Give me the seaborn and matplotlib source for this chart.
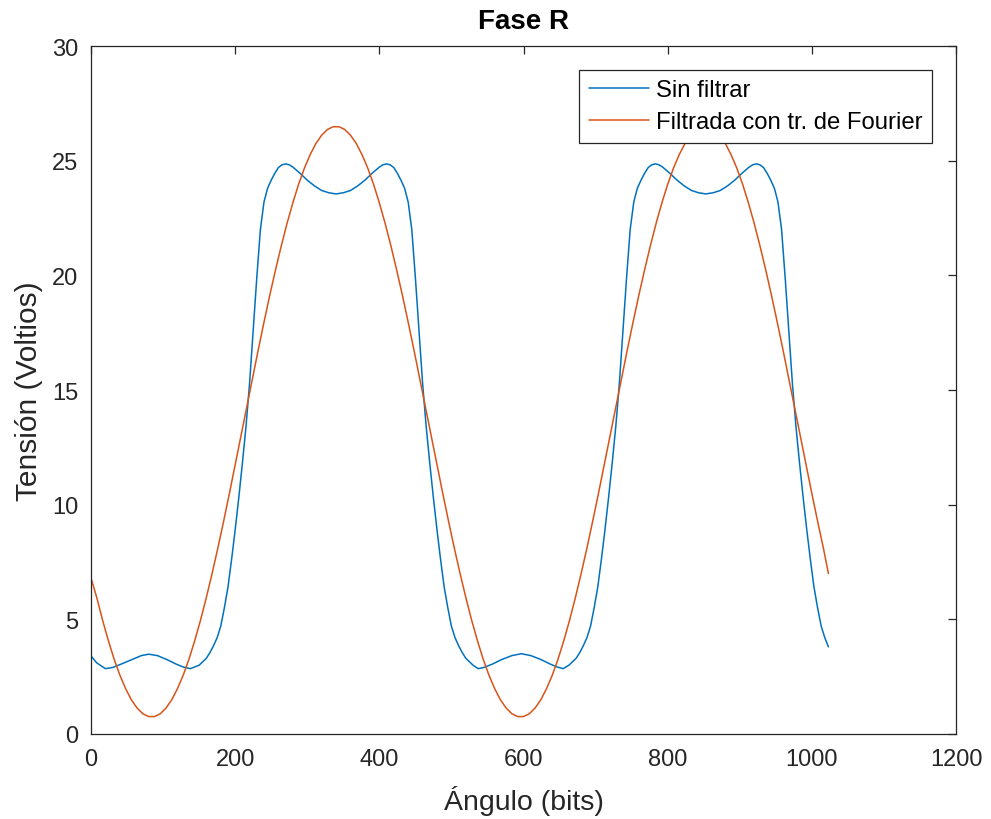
import matplotlib
matplotlib.use("Agg")
import matplotlib.pyplot as plt
import seaborn as sns
import pandas as pd

# ---- data ----
blue_x = [0, 8, 20, 30, 42, 57, 70, 80, 92, 105, 118, 128, 138, 150, 160, 165, 170, 175, 180,
          185, 190, 195, 200, 205, 210, 215, 220, 225, 230, 235, 240, 245, 250, 255, 260, 265,
          270, 275, 280, 290, 300, 310, 320, 330, 340, 350, 360, 370, 380, 390, 400, 405, 410,
          415, 420, 425, 430, 435, 440, 445, 450, 455, 460, 465, 470, 475, 480, 485, 490, 495,
          500, 505, 510, 515, 520, 530, 537, 545, 557, 570, 584, 597, 610, 624, 637, 647, 655,
          663, 673, 678, 683, 688, 693, 698, 703, 708, 713, 718, 723, 728, 733, 738, 743, 748,
          753, 758, 763, 768, 773, 778, 783, 788, 793, 803, 813, 823, 833, 843, 853, 863, 873,
          883, 893, 903, 913, 918, 923, 928, 933, 938, 943, 948, 953, 958, 963, 968, 973, 978,
          983, 988, 993, 998, 1003, 1008, 1013, 1018, 1023]
blue_y = [3.4, 3.1, 2.85, 2.9, 3.05, 3.25, 3.42, 3.48, 3.42, 3.25, 3.05, 2.92, 2.85, 3.0, 3.3,
          3.55, 3.85, 4.2, 4.7, 5.5, 6.4, 7.6, 8.9, 10.3, 11.8, 13.4, 15.3, 17.6, 19.9, 22.0,
          23.2, 23.8, 24.15, 24.45, 24.7, 24.82, 24.86, 24.82, 24.72, 24.45, 24.15, 23.9, 23.7,
          23.6, 23.55, 23.6, 23.7, 23.9, 24.15, 24.45, 24.72, 24.82, 24.86, 24.82, 24.7, 24.45,
          24.15, 23.8, 23.2, 22.0, 19.9, 17.6, 15.3, 13.4, 11.8, 10.3, 8.9, 7.6, 6.4, 5.5, 4.7,
          4.2, 3.85, 3.55, 3.3, 3.0, 2.85, 2.9, 3.05, 3.25, 3.42, 3.5, 3.42, 3.25, 3.05, 2.92,
          2.85, 3.0, 3.3, 3.55, 3.85, 4.2, 4.7, 5.5, 6.4, 7.6, 8.9, 10.3, 11.8, 13.4, 15.3, 17.6,
          19.9, 22.0, 23.2, 23.8, 24.15, 24.45, 24.7, 24.82, 24.86, 24.82, 24.72, 24.45, 24.15,
          23.9, 23.7, 23.6, 23.55, 23.6, 23.7, 23.9, 24.15, 24.45, 24.72, 24.82, 24.86, 24.82,
          24.7, 24.45, 24.15, 23.8, 23.2, 22.0, 19.9, 17.6, 15.3, 13.4, 11.8, 10.3, 8.9, 7.6,
          6.4, 5.5, 4.7, 4.2, 3.8]

orange_x = [0, 8, 16, 24, 32, 40, 48, 56, 64, 72, 80, 88, 96, 104, 112, 120, 128, 136, 144,
            152, 160, 168, 176, 184, 192, 200, 208, 216, 224, 232, 240, 248, 256, 264, 272, 280,
            288, 296, 304, 312, 320, 328, 336, 344, 352, 360, 368, 376, 384, 392, 400, 408, 416,
            424, 432, 440, 448, 456, 464, 472, 480, 488, 496, 504, 512, 520, 528, 536, 544, 552,
            560, 568, 576, 584, 592, 600, 608, 616, 624, 632, 640, 648, 656, 664, 672, 680, 688,
            696, 704, 712, 720, 728, 736, 744, 752, 760, 768, 776, 784, 792, 800, 808, 816, 824,
            832, 840, 848, 856, 864, 872, 880, 888, 896, 904, 912, 920, 928, 936, 944, 952, 960,
            968, 976, 984, 992, 1000, 1008, 1016, 1023]
orange_y = [6.8, 5.95, 4.97, 4.08, 3.27, 2.57, 1.98, 1.49, 1.13, 0.88, 0.76, 0.76, 0.88, 1.13,
            1.49, 1.98, 2.57, 3.27, 4.08, 4.97, 5.95, 7.00, 8.11, 9.28, 10.49, 11.73, 12.99,
            14.25, 15.51, 16.75, 17.96, 19.13, 20.24, 21.29, 22.27, 23.16, 23.97, 24.67, 25.26,
            25.75, 26.11, 26.36, 26.48, 26.48, 26.36, 26.11, 25.75, 25.26, 24.67, 23.97, 23.16,
            22.27, 21.29, 20.24, 19.13, 17.96, 16.75, 15.51, 14.25, 12.99, 11.73, 10.49, 9.28,
            8.11, 7.00, 5.95, 4.97, 4.08, 3.27, 2.57, 1.98, 1.49, 1.13, 0.88, 0.76, 0.76, 0.88,
            1.13, 1.49, 1.98, 2.57, 3.27, 4.08, 4.97, 5.95, 7.00, 8.11, 9.28, 10.49, 11.73, 12.99,
            14.25, 15.51, 16.75, 17.96, 19.13, 20.24, 21.29, 22.27, 23.16, 23.97, 24.67, 25.26,
            25.75, 26.11, 26.36, 26.48, 26.48, 26.36, 26.11, 25.75, 25.26, 24.67, 23.97, 23.16,
            22.27, 21.29, 20.24, 19.13, 17.96, 16.75, 15.51, 14.25, 12.99, 11.73, 10.49, 9.28,
            8.11, 7.0]

series_names = ["Sin filtrar", "Filtrada con tr. de Fourier"]
series_colors = ["#0072BD", "#D95319"]
x_ticks = [0, 200, 400, 600, 800, 1000, 1200]
y_ticks = [0, 5, 10, 15, 20, 25, 30]
title_text = "Fase R"
x_label = "Ángulo (bits)"
y_label = "Tensión (Voltios)"

df = pd.concat([
    pd.DataFrame({"x": blue_x, "y": blue_y, "serie": series_names[0]}),
    pd.DataFrame({"x": orange_x, "y": orange_y, "serie": series_names[1]}),
], ignore_index=True)

sns.set_style("white")
plt.rcParams["font.family"] = ["Liberation Sans", "DejaVu Sans"]

ink = "#262626"
fig = plt.figure(figsize=(9.91, 8.20), dpi=100)
ax = fig.add_axes([91 / 991, 1 - 735 / 820, (956 - 91) / 991, (735 - 47) / 820])

sns.lineplot(data=df, x="x", y="y", hue="serie", palette=dict(zip(series_names, series_colors)),
             estimator=None, sort=False, linewidth=1.1, ax=ax, legend=False)

ax.set_xlim(0, 1200)
ax.set_ylim(0, 30)
ax.set_xticks(x_ticks)
ax.set_yticks(y_ticks)
ax.tick_params(axis="both", which="both", direction="in", length=6, width=0.9, color=ink,
               labelcolor=ink, labelsize=17, top=True, right=True)
ax.tick_params(axis="x", pad=10)
ax.tick_params(axis="y", pad=9)
for s in ax.spines.values():
    s.set_visible(True)
    s.set_color(ink)
    s.set_linewidth(0.9)

ax.set_xlabel(x_label, fontsize=20.5, color=ink, labelpad=11)
ax.set_ylabel(y_label, fontsize=21.5, color=ink, labelpad=7)
ax.set_title(title_text, fontsize=20, fontweight="bold", color="black", pad=13)

handles = ax.get_lines()[:2]
leg = ax.legend(handles, series_names, loc="upper right", fontsize=17.2, frameon=True,
                fancybox=False, framealpha=1, edgecolor=ink, borderpad=0.4, labelspacing=0.42,
                handlelength=2.5, handletextpad=0.3, borderaxespad=1.0)
leg.get_frame().set_linewidth(0.9)
for t in leg.get_texts():
    t.set_color("black")

fig.savefig("out.png", dpi=100)
